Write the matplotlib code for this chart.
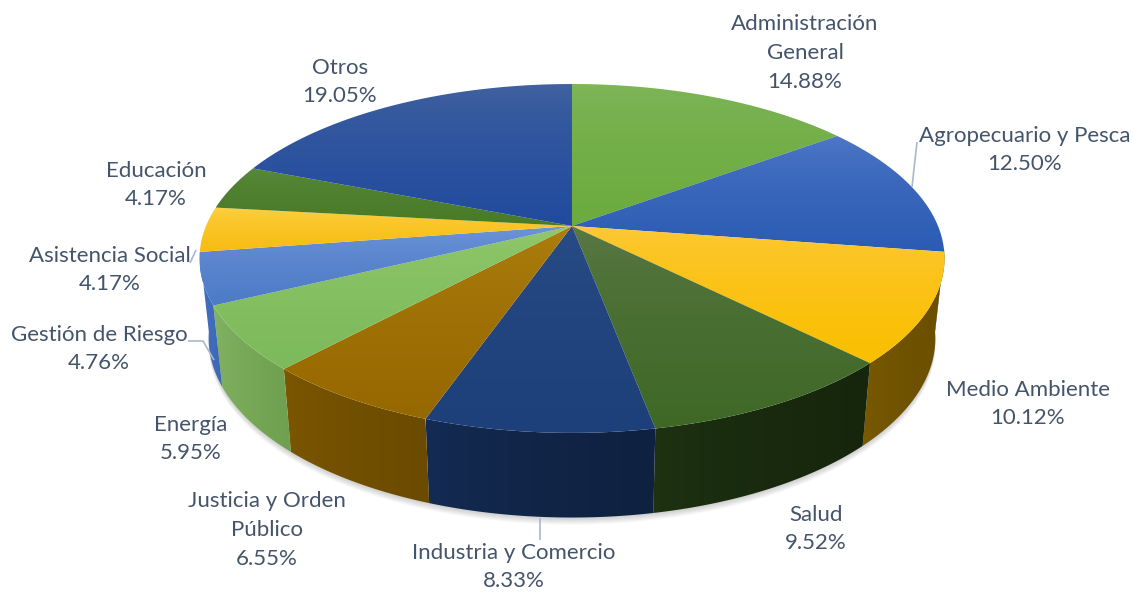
import numpy as np
import matplotlib
matplotlib.use('Agg')
import matplotlib.pyplot as plt
from matplotlib.colors import to_rgb
from matplotlib.patches import Polygon

plt.rcParams['font.family'] = ['Lato', 'DejaVu Sans']

# data, clockwise from 12 o'clock
categories = ['Administración\nGeneral', 'Agropecuario y Pesca', 'Medio Ambiente', 'Salud',
              'Industria y Comercio', 'Justicia y Orden\nPúblico', 'Energía', 'Gestión de Riesgo',
              'Asistencia Social', 'Educación', 'Otros']
values = [14.88, 12.50, 10.12, 9.52, 8.33, 6.55, 5.95, 4.76, 4.17, 4.17, 19.05]

top_light = ['#7fb65a', '#5279c9', '#ffc93c', '#5c7a48', '#2a4e88', '#b0800f',
             '#92c96c', '#7097da', '#ffd347', '#5a8a3c', '#44639f']
top_dark = ['#6cab3e', '#2b5cb3', '#f9bf00', '#3f6826', '#1d3f7a', '#966800',
            '#7dba5c', '#4d7bc6', '#f6bc12', '#487a27', '#214b9e']
side_light = ['#68a839', '#2b5cb3', '#7a5a00', '#1f3312', '#142c55', '#7d5800',
              '#83b564', '#4472c4', '#f6bc12', '#487a27', '#1f4a9e']
side_dark = ['#68a839', '#2b5cb3', '#6b4f00', '#16260c', '#0f2140', '#6b4b00',
             '#6ea04f', '#3d68b5', '#f6bc12', '#487a27', '#1f4a9e']

# label centre in pixels
label_pos = [(805, 53), (1025, 150), (1028, 404), (816, 529), (514, 567), (267, 530),
             (191, 439), (99, 349), (110, 270), (156, 185), (340, 82)]
leaders = [[(917, 142), (912, 187)], [(540, 518), (540, 540)], [(190, 263), (196, 250)],
           [(188, 341), (203, 341), (214, 360)]]

# perspective of the pie
cx, cy = 572, 226
sx, sy, persp = 366, 168.4, 0.186
low_cy, low_sx, low_sy = 305, 357, 173


def project(theta, radius=1.0, base=False):
    u = radius * np.sin(theta)
    v = radius * np.cos(theta)
    w = 1 + persp * v
    if base:
        return cx + low_sx * u / w, low_cy - low_sy * v / w
    return cx + sx * u / w, cy - sy * v / w


def gradient(ax, patch, c1, c2, horizontal=False):
    xy = patch.get_xy()
    x0, y0 = xy.min(axis=0)
    x1, y1 = xy.max(axis=0)
    # the light band fades out quickly near the top of each slice
    t = (np.linspace(0, 1, 128) ** 0.6)[:, None]
    img = (1 - t) * np.array(to_rgb(c1)) + t * np.array(to_rgb(c2))
    img = img[:, None, :]
    if horizontal:
        img = img.transpose(1, 0, 2)
    ax.add_patch(patch)
    im = ax.imshow(img, extent=(x0, x1, y1, y0), aspect='auto', interpolation='bilinear', zorder=patch.get_zorder())
    im.set_clip_path(patch)


fig = plt.figure(figsize=(11.33, 5.96), dpi=100)
ax = fig.add_axes([0, 0, 1, 1])

edges = np.radians(np.cumsum([0] + values) * 3.6)

# soft shadow under the side wall
arc = np.linspace(np.radians(92), np.radians(261), 200)
bx, by = project(arc, base=True)
for off in np.linspace(7, 1, 7):
    ax.fill(np.r_[bx, bx[::-1]], np.r_[by + off, by[::-1] - 30], color='#3a3a3a', alpha=0.035, lw=0, zorder=1)

# side wall, only the front facing slices
for i in range(len(values)):
    a = max(edges[i], np.radians(98))
    b = min(edges[i + 1], np.radians(261.3))
    if b <= a:
        continue
    t = np.linspace(a, b, 80)
    tx, ty = project(t)
    bx, by = project(t, base=True)
    poly = Polygon(np.c_[np.r_[tx, bx[::-1]], np.r_[ty, by[::-1]]], closed=True, fc='none', ec='none', zorder=2)
    gradient(ax, poly, side_light[i], side_dark[i], horizontal=True)

# top face
for i in range(len(values)):
    t = np.linspace(edges[i], edges[i + 1], 120)
    tx, ty = project(t)
    poly = Polygon(np.c_[np.r_[cx, tx], np.r_[cy, ty]], closed=True, fc='none', ec='none', zorder=3)
    gradient(ax, poly, top_light[i], top_dark[i])

# leader lines
for line in leaders:
    pts = np.array(line)
    ax.plot(pts[:, 0], pts[:, 1], color='#a9b8cc', lw=1.2, zorder=4, solid_capstyle='butt')

for name, val, (x, y) in zip(categories, values, label_pos):
    ax.text(x, y, '{}\n{:.2f}%'.format(name, val), ha='center', va='center', fontsize=16,
            color='#44546a', linespacing=1.55, zorder=5)

ax.set_xlim(0, 1133)
ax.set_ylim(596, 0)
ax.axis('off')
fig.savefig('out.png', dpi=100, facecolor='white')
